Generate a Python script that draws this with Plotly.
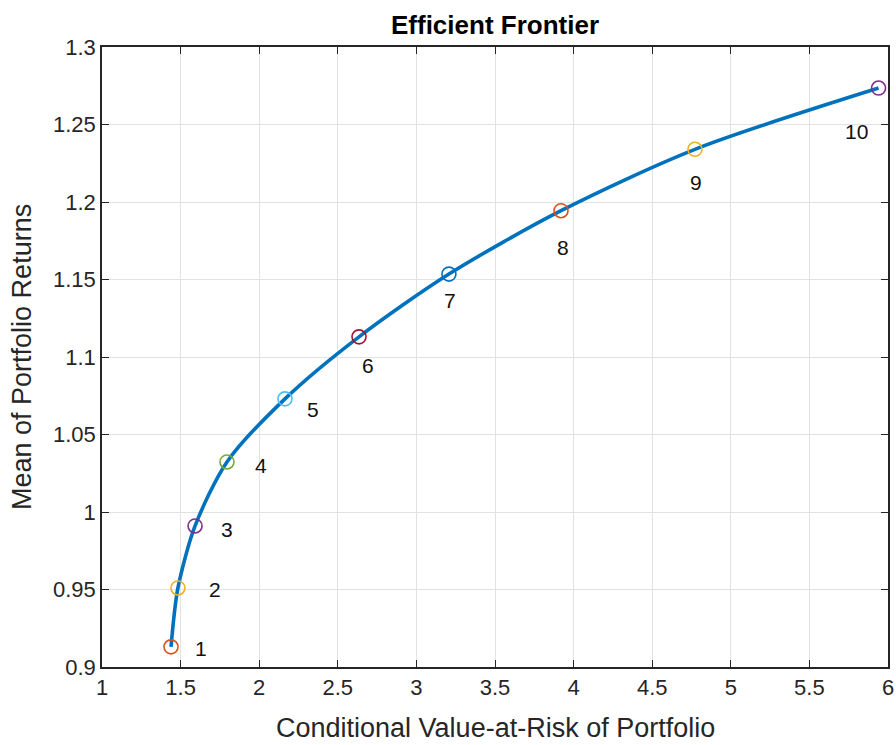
import plotly.graph_objects as go

cvar = [1.439, 1.483, 1.592, 1.795, 2.164, 2.635, 3.207, 3.920, 4.772, 5.940]
mean_ret = [0.913, 0.951, 0.991, 1.0323, 1.073, 1.113, 1.1535, 1.1944, 1.234, 1.2735]
labels = ["1", "2", "3", "4", "5", "6", "7", "8", "9", "10"]
marker_colors = ["#D95319", "#EDB120", "#7E2F8E", "#77AC30", "#4DBEEE",
                 "#A2142F", "#0072BD", "#D95319", "#EDB120", "#7E2F8E"]
label_dx = [30, 37, 32, 34, 28, 9, 1, 2, 1, -22]
label_dy = [-2, -2, -4, -4, -11, -29, -26, -37, -33, -43]
x_ticks = [1, 1.5, 2, 2.5, 3, 3.5, 4, 4.5, 5, 5.5, 6]
x_tick_text = ["1", "1.5", "2", "2.5", "3", "3.5", "4", "4.5", "5", "5.5", "6"]
y_ticks = [0.9, 0.95, 1, 1.05, 1.1, 1.15, 1.2, 1.25, 1.3]
y_tick_text = ["0.9", "0.95", "1", "1.05", "1.1", "1.15", "1.2", "1.25", "1.3"]

FONT = "Liberation Sans, Arial, sans-serif"
AX = "#262626"

fig = go.Figure()
fig.add_trace(go.Scatter(x=cvar, y=mean_ret, mode="lines",
                         line=dict(color="#0072BD", width=3.6, shape="spline", smoothing=0.8),
                         hoverinfo="skip", showlegend=False))
for xv, yv, c in zip(cvar, mean_ret, marker_colors):
    fig.add_trace(go.Scatter(x=[xv], y=[yv], mode="markers",
                             marker=dict(symbol="circle-open", size=14, color=c,
                                         line=dict(width=1.6, color=c)),
                             showlegend=False))
for xv, yv, t, dx, dy in zip(cvar, mean_ret, labels, label_dx, label_dy):
    fig.add_annotation(x=xv, y=yv, text=t, showarrow=False, xshift=dx, yshift=dy,
                       font=dict(family=FONT, size=21, color="#111111"))

axis_common = dict(showgrid=True, gridcolor="#E2E2E2", gridwidth=1.2, automargin=False,
                   ticks="inside", ticklen=7, tickcolor=AX, tickwidth=1.3,
                   showline=True, linecolor=AX, linewidth=1.5, mirror="ticks",
                   zeroline=False, tickfont=dict(family=FONT, size=22, color=AX))

fig.add_annotation(xref="paper", yref="paper", x=0.5, y=-0.0984, xanchor="center", yanchor="middle",
                   text="Conditional Value-at-Risk of Portfolio", showarrow=False,
                   font=dict(family=FONT, size=27, color=AX))
fig.add_annotation(xref="paper", yref="paper", x=-0.1018, y=0.5, xanchor="center", yanchor="middle",
                   text="Mean of Portfolio Returns", showarrow=False, textangle=-90,
                   font=dict(family=FONT, size=27, color=AX))

fig.update_layout(
    template="none",
    width=896, height=745,
    plot_bgcolor="white", paper_bgcolor="white",
    margin=dict(l=102, r=8, t=47, b=78, autoexpand=False),
    title=dict(text="<b>Efficient Frontier</b>", x=0.5, xref="paper", xanchor="center",
               y=0.9664, yanchor="middle",
               font=dict(family=FONT, size=26, color="black")),
    xaxis=dict(range=[1, 6], tickvals=x_ticks, ticktext=x_tick_text, **axis_common),
    yaxis=dict(range=[0.9, 1.3], tickvals=y_ticks, ticktext=y_tick_text, **axis_common),
)

fig.write_html("out.html", config={"displayModeBar": False},
               post_script="document.body.style.margin='0';document.body.style.overflow='hidden';")
